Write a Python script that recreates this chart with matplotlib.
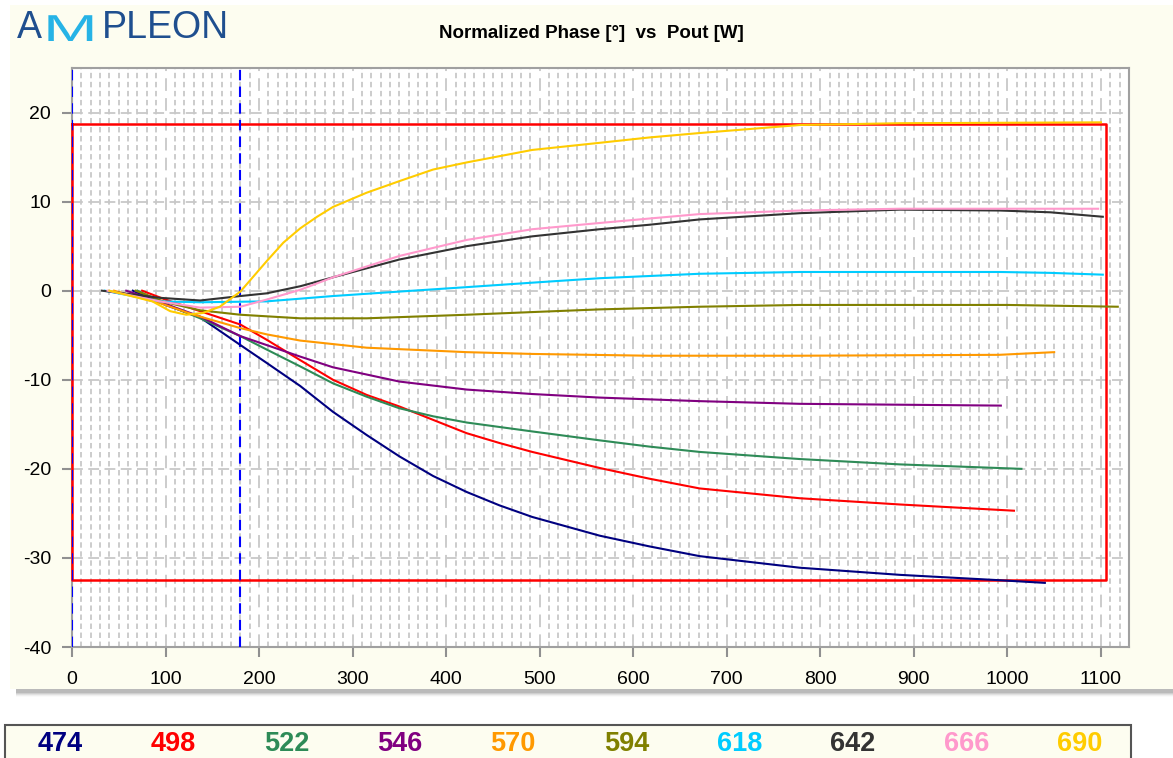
import matplotlib
matplotlib.use("Agg")
import matplotlib.pyplot as plt
from matplotlib.patches import Rectangle, PathPatch
from matplotlib.textpath import TextPath
from matplotlib.font_manager import FontProperties
from matplotlib.transforms import Affine2D
from matplotlib.ticker import MultipleLocator

plt.rcParams["font.family"] = "Liberation Sans"
plt.rcParams["axes.unicode_minus"] = False

# ── data ──────────────────────────────────────────────────────────────────────
SERIES = ["474", "498", "522", "546", "570", "594", "618", "642", "666", "690"]
COLORS = ["#000080", "#ff0000", "#2e8b57", "#800080", "#ff9900",
          "#808000", "#00ccff", "#333333", "#ff99cc", "#ffcc00"]

x474 = [65, 100, 137, 180, 208, 244, 279, 315, 350, 386, 422, 457, 492, 564, 617, 671, 778, 885, 991, 1040]
y474 = [0, -1.6, -3.0, -6.1, -8.1, -10.7, -13.6, -16.2, -18.6, -20.8, -22.6, -24.1, -25.4, -27.5, -28.7, -29.8, -31.1, -31.9, -32.5, -32.8]

x498 = [75, 100, 137, 180, 208, 244, 279, 315, 350, 386, 422, 457, 492, 564, 617, 671, 778, 885, 1007]
y498 = [0, -1.0, -2.3, -3.8, -5.5, -7.8, -10.0, -11.7, -13.0, -14.5, -16.0, -17.1, -18.1, -19.9, -21.1, -22.2, -23.3, -24.0, -24.7]

x522 = [70, 100, 137, 180, 208, 244, 279, 315, 350, 386, 422, 492, 564, 617, 671, 778, 885, 1015]
y522 = [0, -1.5, -3.1, -5.1, -6.6, -8.5, -10.4, -11.9, -13.2, -14.1, -14.8, -15.8, -16.8, -17.5, -18.1, -18.9, -19.5, -20.0]

x546 = [58, 100, 137, 180, 208, 244, 279, 350, 422, 492, 564, 671, 778, 885, 993]
y546 = [0, -1.5, -2.9, -5.1, -6.1, -7.4, -8.6, -10.2, -11.1, -11.6, -12.0, -12.4, -12.7, -12.8, -12.9]

x570 = [45, 94, 130, 180, 208, 244, 315, 422, 492, 617, 778, 991, 1050]
y570 = [0, -1.4, -2.7, -4.2, -4.9, -5.6, -6.4, -6.9, -7.1, -7.3, -7.3, -7.2, -6.9]

x594 = [68, 100, 137, 180, 244, 315, 422, 492, 564, 671, 778, 885, 1000, 1118]
y594 = [0, -1.3, -2.2, -2.7, -3.1, -3.1, -2.7, -2.4, -2.1, -1.8, -1.6, -1.6, -1.6, -1.8]

x618 = [35, 94, 137, 208, 279, 350, 422, 492, 564, 671, 778, 885, 992, 1046, 1102]
y618 = [0, -1.2, -1.3, -1.2, -0.6, -0.1, 0.4, 0.9, 1.4, 1.9, 2.1, 2.1, 2.1, 2.0, 1.8]

x642 = [32, 94, 137, 180, 208, 244, 279, 350, 422, 492, 564, 617, 671, 778, 885, 992, 1046, 1102]
y642 = [0, -0.8, -1.1, -0.6, -0.3, 0.5, 1.5, 3.5, 5.0, 6.1, 6.9, 7.4, 8.0, 8.7, 9.1, 9.0, 8.8, 8.3]

x666 = [38, 94, 137, 180, 208, 244, 279, 350, 422, 492, 564, 617, 671, 778, 885, 1097]
y666 = [0, -1.2, -1.9, -1.8, -1.0, 0.1, 1.5, 3.9, 5.7, 6.9, 7.6, 8.1, 8.6, 9.0, 9.2, 9.2]

x690 = [40, 86, 105, 122, 140, 158, 180, 208, 226, 244, 262, 279, 315, 350, 386, 422, 492, 564, 617, 671, 778, 885, 1100]
y690 = [0, -1.2, -2.3, -2.7, -2.5, -1.8, -0.1, 3.3, 5.4, 7.0, 8.3, 9.4, 11.0, 12.3, 13.6, 14.4, 15.8, 16.6, 17.2, 17.7, 18.6, 18.8, 18.9]

XS = [x474, x498, x522, x546, x570, x594, x618, x642, x666, x690]
YS = [y474, y498, y522, y546, y570, y594, y618, y642, y666, y690]

# limit box and marker
LIM_X = [0, 1105]
LIM_Y = [-32.5, 18.7]
MARK_X = 180

# ── figure ────────────────────────────────────────────────────────────────────
W, H = 1173, 758
fig = plt.figure(figsize=(W / 100, H / 100), dpi=100)
fig.patch.set_facecolor("white")

def rect(x0, y0, w, h, **kw):
    r = Rectangle((x0 / W, 1 - (y0 + h) / H), w / W, h / H, transform=fig.transFigure, **kw)
    fig.patches.append(r)
    return r

PANEL = "#fdfdf0"
# drop shadow under the panel
for i, a in enumerate([0.10, 0.08, 0.06, 0.04, 0.02]):
    rect(16, 8, W, 685 + i, facecolor="black", alpha=a, edgecolor="none", zorder=0)
rect(10, 5, W, 684, facecolor=PANEL, edgecolor="none", zorder=1)

# legend box
rect(5, 725, 1126, 40, facecolor=PANEL, edgecolor="#555555", linewidth=1.5, zorder=1)

ax = fig.add_axes([72 / W, 1 - 647 / H, (1129 - 72) / W, (647 - 68) / H])
ax.set_zorder(2)
ax.set_facecolor("white")
ax.set_xlim(0, 1130)
ax.set_ylim(-40, 25)

ax.xaxis.set_major_locator(MultipleLocator(100))
ax.xaxis.set_minor_locator(MultipleLocator(10))
ax.set_yticks([-40, -30, -20, -10, 0, 10, 20])

ax.grid(which="minor", axis="x", color="#c8c8c8", linestyle=(0, (3, 2)), linewidth=1.3)
ax.grid(which="major", axis="x", color="#c8c8c8", linestyle=(0, (7, 4)), linewidth=1.3)
ax.grid(which="major", axis="y", color="#c8c8c8", linestyle=(0, (6, 3)), linewidth=1.3)
ax.set_axisbelow(True)

for s in ax.spines.values():
    s.set_color("#a0a0a0")
    s.set_linewidth(1.5)
ax.tick_params(which="major", direction="out", length=7, width=1.5, color="#909090",
               labelsize=14, pad=8)
ax.tick_params(which="minor", length=0)
ax.tick_params(axis="x", pad=10)

# limit box
ax.plot([LIM_X[0], LIM_X[1], LIM_X[1], LIM_X[0], LIM_X[0]],
        [LIM_Y[1], LIM_Y[1], LIM_Y[0], LIM_Y[0], LIM_Y[1]],
        color="#ff0000", linewidth=1.8, zorder=3, clip_on=False)
ax.axvline(0, color="#0000ff", linestyle=(0, (5, 3)), linewidth=1.5, zorder=4)
ax.axvline(MARK_X, color="#0000ff", linestyle=(0, (5, 3)), linewidth=1.5, zorder=4)

for xs, ys, c in zip(XS, YS, COLORS):
    ax.plot(xs, ys, color=c, linewidth=1.5, zorder=5)

# titles and logo
fig.text(591 / W, 1 - 33 / H, "Normalized Phase [°]  vs  Pout [W]", ha="center", va="center",
         fontsize=13.5, fontweight="bold")
fig.text(17 / W, 1 - 28 / H, "A", ha="left", va="center", fontsize=27, color="#1f4f8f")
fig.text(102 / W, 1 - 28 / H, "PLEON", ha="left", va="center", fontsize=27, color="#1f4f8f")
# wide light-blue "M" of the logo, stretched horizontally (pixel coordinates)
m_path = TextPath((0, 0), "M", size=37.5, prop=FontProperties(family="Liberation Sans"))
m_tr = Affine2D().scale(1.75, 1.0).translate(43, H - 41)
fig.patches.append(PathPatch(m_tr.transform_path(m_path), transform=None,
                             facecolor="#26b3e6", edgecolor="none", zorder=3))

# colour legend
for i, (name, c) in enumerate(zip(SERIES, COLORS)):
    fig.text((60 + i * 113.3) / W, 1 - 744 / H, name, ha="center", va="center",
             fontsize=19.5, fontweight="bold", color=c)

fig.savefig("out.png", dpi=100, facecolor=fig.get_facecolor())
